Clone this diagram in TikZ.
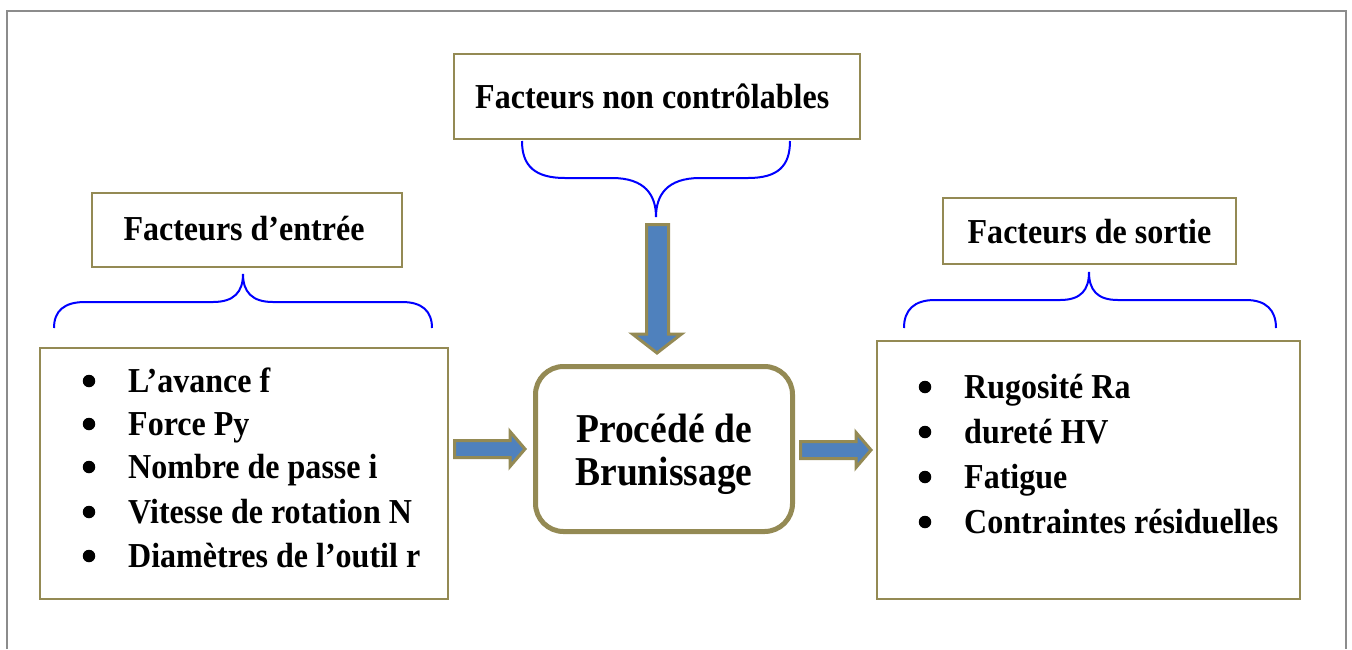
\documentclass[tikz,border=0pt]{standalone}
\usepackage{fontspec}
\setmainfont{Liberation Serif}[FakeStretch=0.915]
\definecolor{olive}{HTML}{948A54}
\definecolor{arrowblue}{HTML}{4F81BD}
\definecolor{bracecol}{HTML}{0000FF}
\definecolor{framegray}{HTML}{8C8C8C}
\begin{document}
\begin{tikzpicture}[x=1pt,y=-1pt,
  framebox/.style={draw=olive,line width=2.5pt,inner sep=0pt,rectangle},
  procbox/.style={draw=olive,line width=5pt,inner sep=0pt,rectangle,rounded corners=28pt},
  lbl/.style={inner sep=0pt,anchor=base,font=\fontsize{35}{42}\selectfont\bfseries},
  itemtxt/.style={inner sep=0pt,anchor=base west,font=\fontsize{35}{42}\selectfont\bfseries},
  bul/.style={circle,fill=black,inner sep=0pt,minimum size=12.5pt},
  bigarrow/.style={draw=olive,fill=arrowblue,line width=3pt,line join=miter},
  bracepath/.style={draw=bracecol,line width=2pt}]
\useasboundingbox (0,0) rectangle (1352,649);

% outer frame
\draw[framegray,line width=2pt] (7,649) -- (7,11) -- (1346,11) -- (1346,649);

% boxes
\node[framebox,minimum width=406pt,minimum height=85pt] (nc) at (657,96.5) {};
\node[framebox,minimum width=310pt,minimum height=74pt] (fin) at (247,230) {};
\node[framebox,minimum width=293pt,minimum height=66pt] (fout) at (1089.5,231) {};
\node[framebox,minimum width=408pt,minimum height=251pt] (lin) at (244,473.5) {};
\node[framebox,minimum width=423pt,minimum height=258pt] (lout) at (1088.5,470) {};
\node[procbox,minimum width=257pt,minimum height=165pt] (proc) at (664,449) {};

% headings
\node[lbl,anchor=base west] (tnc) at (475,108) {Facteurs non contrôlables};
\node[lbl] (tin) at (244,240) {Facteurs d’entrée};
\node[lbl] (tout) at (1089.5,243) {Facteurs de sortie};
\node[lbl,font=\fontsize{41}{43}\selectfont\bfseries] (tp1) at (664,442) {Procédé de};
\node[lbl,font=\fontsize{41}{43}\selectfont\bfseries] (tp2) at (664,485) {Brunissage};

% input factors
\foreach \y/\t [count=\i] in {392/L’avance f,435/Force Py,478/Nombre de passe i,523/Vitesse de rotation N,567/Diamètres de l’outil r}{
  \node[bul] (bi\i) at (89,\y-11) {};
  \node[itemtxt] (ti\i) at (128,\y) {\t};
}
% output factors
\foreach \y/\t [count=\i] in {398/Rugosité Ra,443/dureté HV,488/Fatigue,533/Contraintes résiduelles}{
  \node[bul] (bo\i) at (925,\y-11) {};
  \node[itemtxt] (to\i) at (964,\y) {\t};
}

% braces
\draw[bracepath] (522,141) .. controls (522,166) and (535,178) .. (565,178) -- (612,178)
  .. controls (645,178) and (656,195) .. (656,217)
  .. controls (656,195) and (667,178) .. (700,178) -- (748,178)
  .. controls (778,178) and (790,166) .. (790,141);
\draw[bracepath] (54,328) .. controls (54,311) and (64,302) .. (85,302) -- (213,302)
  .. controls (234,302) and (243,292) .. (243,274)
  .. controls (243,292) and (252,302) .. (273,302) -- (402,302)
  .. controls (422,302) and (432,311) .. (432,328);
\draw[bracepath] (904,328) .. controls (904,310) and (914,300) .. (935,300) -- (1060,300)
  .. controls (1081,300) and (1089,290) .. (1089,272)
  .. controls (1089,290) and (1097,300) .. (1118,300) -- (1246,300)
  .. controls (1266,300) and (1276,310) .. (1276,328);

% block arrows
\draw[bigarrow] (646.5,224.5) -- (668.5,224.5) -- (668.5,334) -- (681.5,334) -- (657,353)
  -- (632.5,334) -- (646.5,334) -- cycle;
\draw[bigarrow] (454.5,440.5) -- (510,440.5) -- (510,431.5) -- (525,449) -- (510,466.5)
  -- (510,457.5) -- (454.5,457.5) -- cycle;
\draw[bigarrow] (800.5,441.5) -- (856,441.5) -- (856,432.5) -- (871,450) -- (856,467.5)
  -- (856,458.5) -- (800.5,458.5) -- cycle;
\end{tikzpicture}
\end{document}
